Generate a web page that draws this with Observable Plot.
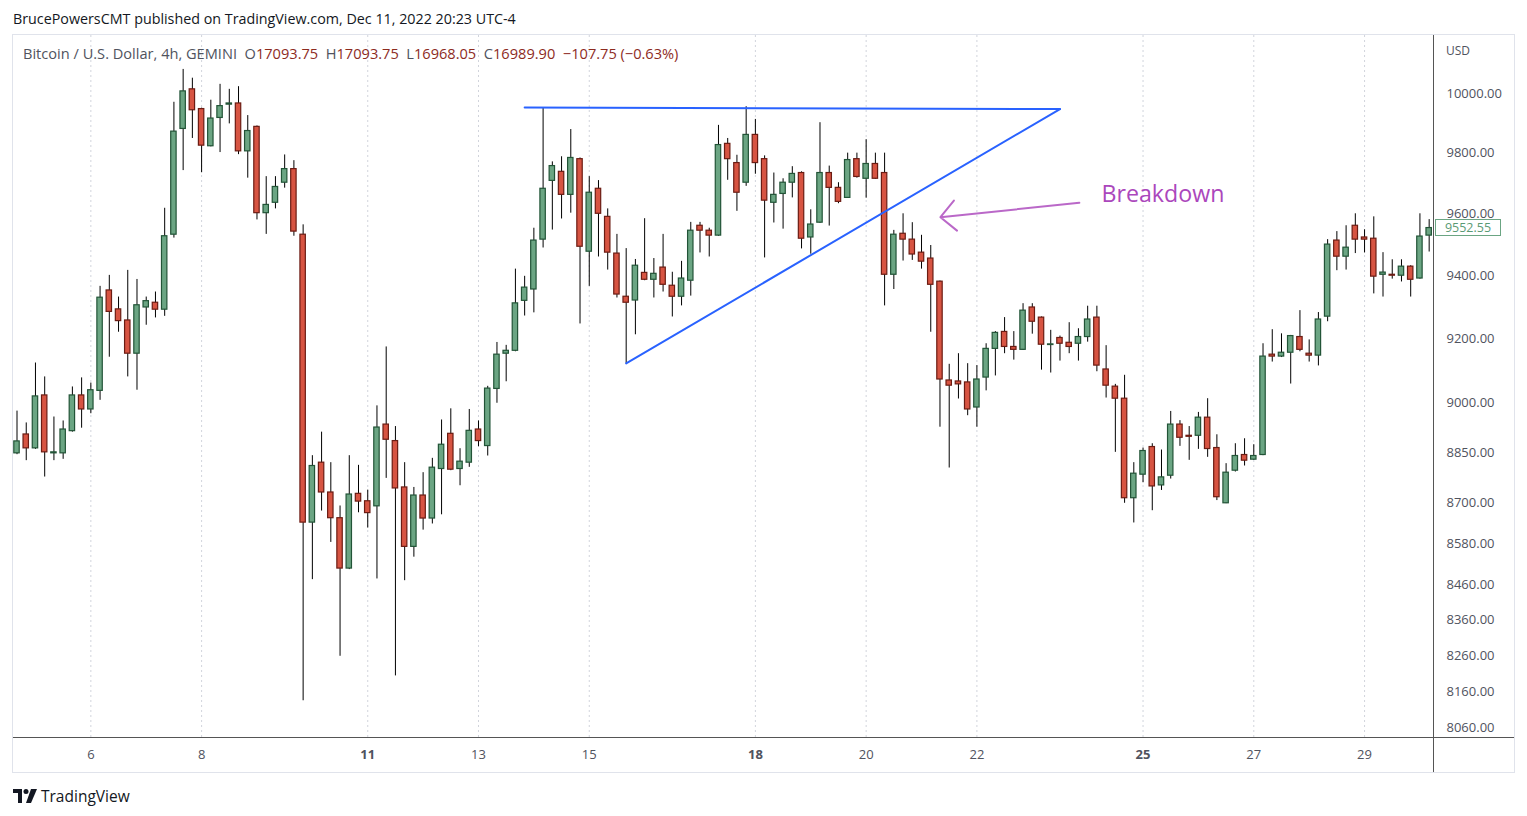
<!DOCTYPE html>
<html><head><meta charset="utf-8">
<script src="https://cdn.jsdelivr.net/npm/d3@7"></script>
<script src="https://cdn.jsdelivr.net/npm/@observablehq/plot@0.6"></script>
<style>
body{margin:0;background:#fff;width:1527px;height:816px;overflow:hidden;position:relative;font-family:"Open Sans",sans-serif}
#pub{position:absolute;left:13px;top:9px;font-size:14.3px;color:#131722;white-space:nowrap}
#box{position:absolute;left:12px;top:34px;width:1503px;height:739px;border:1px solid #e0e3eb;box-sizing:border-box}
#chart{position:absolute;left:0;top:35px}
#legend{position:absolute;left:23px;top:43px;font-size:14.6px;color:#50535e;white-space:nowrap}
#legend .v{color:#8d2b1e}
#usd{position:absolute;left:1446px;top:42px;font-size:12px;color:#50535e}
.hline{position:absolute;left:13px;top:737px;width:1501px;height:1px;background:#555}
.vline{position:absolute;left:1433px;top:35px;width:1px;height:737px;background:#555}
#last{position:absolute;left:1435px;width:64px;height:15px;border:1px solid #6ba583;background:#fff;color:#5a9a74;font-size:12.5px;line-height:15px;text-align:center}
#footer{position:absolute;left:13px;top:785px;font-size:15.5px;color:#131722;display:flex;align-items:center;gap:4px}
</style></head><body>
<div id="pub">BrucePowersCMT published on TradingView.com, Dec 11, 2022 20:23 UTC-4</div>
<div id="box"></div>
<div id="chart"></div>
<div class="hline"></div>
<div class="vline"></div>
<div id="legend">Bitcoin / U.S. Dollar, 4h, GEMINI&nbsp; O<span class="v">17093.75</span>&nbsp; H<span class="v">17093.75</span>&nbsp; L<span class="v">16968.05</span>&nbsp; C<span class="v">16989.90</span>&nbsp; <span class="v">−107.75 (−0.63%)</span></div>
<div id="usd">USD</div>
<div id="last"></div>
<div id="footer"><svg width="24" height="14" viewBox="0 0 24 14"><path d="M0 0h9v14h-4v-10h-5z" fill="#131722"/><circle cx="13" cy="2.5" r="2.5" fill="#131722"/><path d="M18 0h6l-6 14h-5z" fill="#131722"/></svg><span>TradingView</span></div>
<script>
// 4h candles, Gemini BTC/USD, first bar 2020-05-04 16:00
const opens = [8848,8905,8863,9024,8848,8848,8915,9024,8981,9038,9352,9292,9257,9153,9298,9313,9291,9531,9880,10014,
9947,9822,9917,9962,9966,9805,9887,9601,9635,9701,9746,9531,8642,8820,8731,8655,8508,8727,8705,8690,
8935,8885,8746,8571,8722,8654,8801,8907,8801,8820,8920,8870,9044,9153,9162,9319,9355,9515,9707,9737,
9661,9779,9476,9681,9589,9470,9332,9320,9408,9386,9425,9367,9332,9383,9560,9544,9528,9830,9766,9701,
9860,9779,9635,9664,9701,9733,9522,9570,9733,9684,9651,9779,9714,9763,9733,9402,9534,9515,9473,9454,
9380,9070,9067,9064,8987,9079,9168,9221,9174,9165,9298,9266,9180,9202,9187,9184,9205,9266,9104,9051,
9014,8714,8784,8867,8752,8781,8935,8901,8901,8956,8864,8699,8796,8843,8829,8843,9150,9144,9156,9205,
9153,9147,9269,9512,9460,9560,9522,9518,9402,9402,9399,9428,9390,9528];
const highs = [8976,8940,9124,9081,8958,8946,9050,9078,9062,9365,9400,9331,9416,9387,9331,9347,9617,9970,10082,10052,
9950,9977,10031,10014,10023,9925,9890,9721,9721,9793,9774,9563,8841,8912,8820,8691,8841,8812,8738,8992,
9174,8929,8820,8746,8790,8833,8949,8983,8862,8981,8946,9052,9188,9179,9420,9397,9552,9952,9770,9787,
9878,9783,9721,9708,9615,9532,9486,9451,9583,9454,9532,9410,9445,9571,9571,9552,9892,9848,9792,9955,
9912,9790,9733,9714,9754,9737,9612,9901,9756,9701,9799,9799,9844,9799,9799,9545,9599,9570,9529,9496,
9382,9120,9153,9122,9116,9184,9222,9266,9222,9310,9310,9268,9226,9208,9250,9231,9302,9302,9178,9058,
9086,8820,8864,8877,8858,8975,8947,8929,8972,9014,8904,8817,8877,8892,8874,9184,9228,9215,9210,9288,
9196,9282,9515,9541,9560,9599,9547,9589,9473,9450,9450,9431,9599,9580];
const lows = [8844,8826,8860,8777,8826,8830,8912,8924,8968,9009,9142,9220,9081,9040,9242,9265,9270,9520,9741,9848,
9734,9820,9801,9897,9794,9716,9579,9532,9615,9683,9526,8134,8476,8676,8584,8258,8505,8671,8626,8478,
8773,8203,8473,8541,8620,8638,8665,8796,8751,8806,8868,8840,9000,9066,9159,9271,9281,9488,9546,9582,
9601,9246,9365,9459,9417,9328,9121,9212,9383,9328,9347,9268,9303,9334,9472,9459,9526,9709,9607,9689,
9729,9456,9569,9549,9651,9485,9468,9568,9559,9632,9649,9716,9650,9712,9303,9355,9446,9448,9420,9220,
8927,8804,9013,8962,8927,9038,9084,9153,9133,9163,9214,9102,9093,9130,9153,9130,9189,9097,9016,8851,
8699,8641,8760,8677,8737,8771,8869,8827,8860,8836,8707,8698,8792,8810,8827,8841,9127,9141,9059,9159,
9127,9115,9253,9415,9417,9470,9472,9341,9331,9388,9379,9331,9388,9475];
const closes = [8884,8863,9021,8851,8851,8920,9024,8981,9040,9329,9284,9255,9153,9305,9318,9291,9526,9871,10007,9943,
9824,9915,9957,9966,9805,9873,9601,9628,9687,9746,9541,8642,8810,8731,8655,8508,8725,8704,8670,8926,
8889,8743,8571,8722,8654,8805,8874,8799,8823,8916,8885,9045,9150,9162,9311,9361,9512,9681,9756,9661,
9783,9492,9668,9599,9473,9339,9313,9431,9386,9405,9370,9332,9390,9544,9544,9528,9826,9779,9668,9860,
9766,9642,9661,9701,9730,9518,9564,9733,9684,9638,9776,9720,9763,9714,9402,9531,9515,9467,9444,9370,
9073,9054,9058,8981,9073,9168,9218,9174,9165,9288,9253,9181,9182,9184,9174,9205,9260,9116,9054,9014,
8714,8787,8855,8749,8776,8935,8895,8898,8956,8861,8717,8790,8840,8826,8840,9144,9144,9156,9208,9165,
9147,9260,9499,9460,9489,9515,9515,9396,9409,9399,9428,9386,9525,9552.55];

const firstBarUTC = Date.UTC(2020, 4, 4, 16);
const barMs = 4 * 3600e3;
const dayTicks = [6, 8, 11, 13, 15, 18, 20, 22, 25, 27, 29];
const boldDays = [11, 18, 25];
const priceTicks = [8060, 8160, 8260, 8360, 8460, 8580, 8700, 8850, 9000, 9200, 9400, 9600, 9800, 10000];
const triangleTop = [{bar: 55, price: 9952}, {bar: 113, price: 9947}];
const triangleRise = [{bar: 66, price: 9123}, {bar: 113, price: 9947}];
const breakdownArrow = [{fromBar: 115.1, fromPrice: 9635, toBar: 100.05, toPrice: 9588}];
const breakdownLabel = [{bar: 117.5, price: 9662, text: "Breakdown"}];
const lastPrice = 9552.55;

const t = i => new Date(firstBarUTC + i * barMs);
const bars = opens.map((o, i) => ({date: t(i), open: o, high: highs[i], low: lows[i], close: closes[i], up: closes[i] >= o}));
const tickDates = dayTicks.map(d => new Date(Date.UTC(2020, 4, d)));
const half = 1.17 * 3600e3;

const chart = Plot.plot({
  width: 1527, height: 737,
  marginTop: 0, marginBottom: 35, marginLeft: 13, marginRight: 94,
  style: {background: "transparent", fontFamily: "'Open Sans', sans-serif", fontSize: "13px", color: "#50535e"},
  x: {type: "utc", domain: [t(-0.38), t(153.47)], ticks: tickDates, tickFormat: d3.utcFormat("%-d"), tickSize: 0, tickPadding: 12, label: null},
  y: {type: "log", domain: [8033, 10199], ticks: priceTicks, tickFormat: d => d.toFixed(2), tickSize: 0, tickPadding: 13, axis: "right", label: null},
  color: {type: "identity"},
  marks: [
    Plot.ruleX(tickDates, {stroke: "#d1d4dc", strokeDasharray: "2,3", strokeWidth: 1}),
    Plot.ruleX(bars, {x: "date", y1: "low", y2: "high", stroke: "#000", strokeWidth: 1}),
    Plot.rect(bars, {
      x1: d => new Date(+d.date - half), x2: d => new Date(+d.date + half),
      y1: "open", y2: "close",
      fill: d => d.up ? "#6ba583" : "#d75442",
      stroke: d => d.up ? "#225437" : "#6b1c13", strokeWidth: 1.2
    }),
    Plot.line(triangleTop, {x: d => t(d.bar), y: "price", stroke: "#2962ff", strokeWidth: 2}),
    Plot.line(triangleRise, {x: d => t(d.bar), y: "price", stroke: "#2962ff", strokeWidth: 2}),
    Plot.arrow(breakdownArrow, {x1: d => t(d.fromBar), y1: "fromPrice", x2: d => t(d.toBar), y2: "toPrice", stroke: "#ba68c8", strokeWidth: 2, headAngle: 90, headLength: 16}),
    Plot.text(breakdownLabel, {x: d => t(d.bar), y: "price", text: "text", textAnchor: "start", fontSize: 23.2, fill: "#ab47bc"})
  ]
});
chart.querySelectorAll("text").forEach(el => {
  if (boldDays.map(String).includes(el.textContent.trim())) el.setAttribute("font-weight", "bold");
});
document.getElementById("chart").appendChild(chart);
const yPix = chart.scale("y").apply(lastPrice);
const last = document.getElementById("last");
last.textContent = lastPrice.toFixed(2);
last.style.top = (35 + yPix - 8.5) + "px";
</script>
</body></html>
